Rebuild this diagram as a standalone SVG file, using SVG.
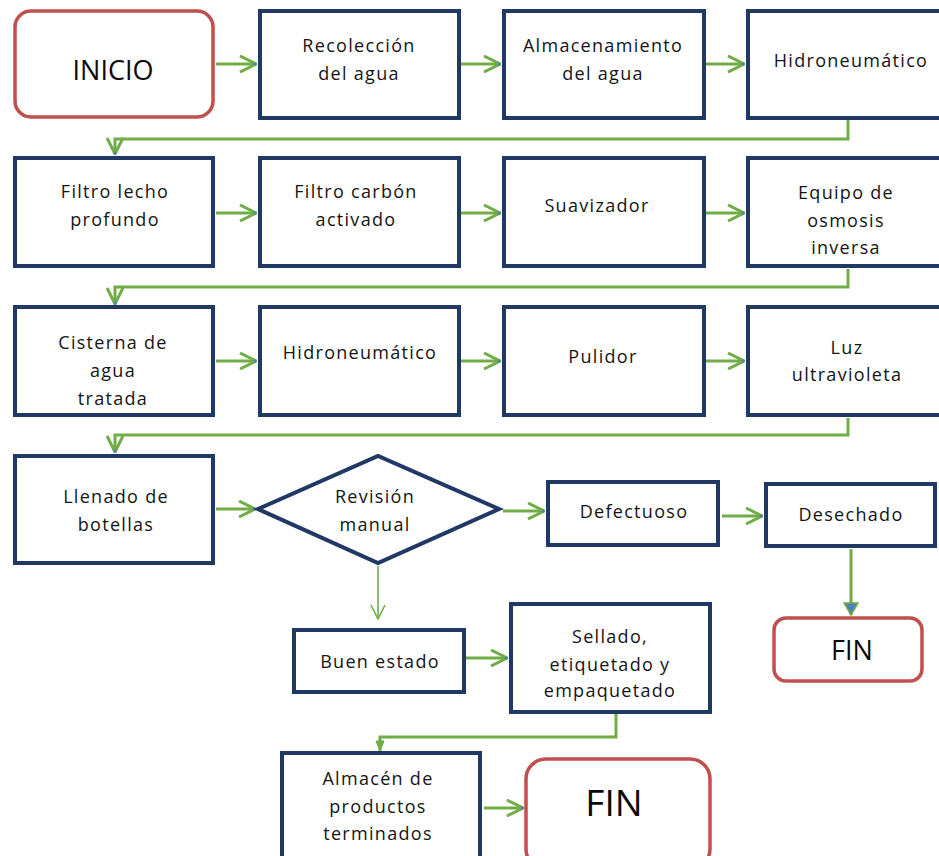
<svg xmlns="http://www.w3.org/2000/svg" width="939" height="856" viewBox="0 0 939 856">
  <style>
    .box { fill: #ffffff; stroke: #1F3864; stroke-width: 4; }
    .term { fill: #ffffff; stroke: #C0504D; stroke-width: 3.5; }
    .lbl { font-family: "Open Sans", "Liberation Sans", sans-serif; font-size: 18px; letter-spacing: 1.3px; fill: #141414; text-anchor: middle; }
    .big { font-family: "Open Sans", "Liberation Sans", sans-serif; fill: #0a0a0a; text-anchor: middle; }
    .flow { fill: none; stroke: #70AD47; stroke-width: 3; }
    .thin { fill: none; stroke: #70AD47; stroke-width: 1.6; }
  </style>
  <defs>
    <marker id="chev" viewBox="0 0 18 18" refX="17" refY="9" markerWidth="18" markerHeight="18" markerUnits="userSpaceOnUse" orient="auto">
      <path d="M1,1 L17,9 L1,17" fill="none" stroke="#70AD47" stroke-width="3"/>
      <circle cx="16" cy="9" r="1.5" fill="#4F81BD"/>
    </marker>
    <marker id="chevThin" viewBox="0 0 16 16" refX="15" refY="8" markerWidth="16" markerHeight="16" markerUnits="userSpaceOnUse" orient="auto">
      <path d="M1,1 L15,8 L1,15" fill="none" stroke="#70AD47" stroke-width="1.6"/>
    </marker>
    <marker id="tri" viewBox="0 0 14 16" refX="13" refY="8" markerWidth="14" markerHeight="16" markerUnits="userSpaceOnUse" orient="auto">
      <path d="M1,1 L13,8 L1,15 Z" fill="#4F81BD" stroke="#70AD47" stroke-width="1.5"/>
    </marker>
    <marker id="triSmall" viewBox="0 0 12 10" refX="11" refY="5" markerWidth="12" markerHeight="10" markerUnits="userSpaceOnUse" orient="auto">
      <path d="M1,1 L11,5 L1,9 Z" fill="#70AD47" stroke="#70AD47" stroke-width="1"/>
    </marker>
  </defs>

  <rect width="939" height="856" fill="#ffffff"/>

  <!-- connectors -->
  <g id="connectors">
    <line class="flow" x1="216" y1="64" x2="256" y2="64" marker-end="url(#chev)"/>
    <line class="flow" x1="461" y1="64" x2="500" y2="64" marker-end="url(#chev)"/>
    <line class="flow" x1="706" y1="64" x2="744" y2="64" marker-end="url(#chev)"/>
    <polyline class="flow" points="848,120 848,139 115,139 115,154" marker-end="url(#chev)"/>

    <line class="flow" x1="216" y1="213" x2="256" y2="213" marker-end="url(#chev)"/>
    <line class="flow" x1="461" y1="213" x2="500" y2="213" marker-end="url(#chev)"/>
    <line class="flow" x1="706" y1="213" x2="744" y2="213" marker-end="url(#chev)"/>
    <polyline class="flow" points="848,269 848,287 115,287 115,304" marker-end="url(#chev)"/>

    <line class="flow" x1="216" y1="361" x2="256" y2="361" marker-end="url(#chev)"/>
    <line class="flow" x1="461" y1="361" x2="500" y2="361" marker-end="url(#chev)"/>
    <line class="flow" x1="706" y1="361" x2="744" y2="361" marker-end="url(#chev)"/>
    <polyline class="flow" points="848,418 848,435 115,435 115,452" marker-end="url(#chev)"/>

    <line class="flow" x1="216" y1="509" x2="255" y2="509" marker-end="url(#chev)"/>
    <line class="flow" x1="503" y1="511" x2="544" y2="511" marker-end="url(#chev)"/>
    <line class="flow" x1="722" y1="516" x2="762" y2="516" marker-end="url(#chev)"/>
    <line class="flow" x1="851" y1="549" x2="851" y2="615" marker-end="url(#tri)"/>

    <line class="thin" x1="378" y1="566" x2="378" y2="619" marker-end="url(#chevThin)"/>
    <line class="flow" x1="466" y1="658" x2="507" y2="658" stroke-width="3.5" marker-end="url(#chev)"/>
    <polyline class="flow" points="616,714 616,737 380,737 380,751" marker-end="url(#triSmall)"/>
    <line class="flow" x1="484" y1="808" x2="523" y2="808" marker-end="url(#chev)"/>
  </g>

  <!-- row 1 -->
  <g id="inicio">
    <rect class="term" x="15" y="11" width="198" height="106" rx="16"/>
    <text class="big" x="113" y="80" font-size="27">INICIO</text>
  </g>
  <g id="recoleccion">
    <rect class="box" x="260" y="11" width="199" height="107"/>
    <text class="lbl" x="359" y="52">Recolección</text>
    <text class="lbl" x="359" y="80">del agua</text>
  </g>
  <g id="almacenamiento">
    <rect class="box" x="504" y="11" width="200" height="107"/>
    <text class="lbl" x="603" y="52">Almacenamiento</text>
    <text class="lbl" x="603" y="80">del agua</text>
  </g>
  <g id="hidroneumatico1">
    <rect class="box" x="748" y="11" width="200" height="107"/>
    <text class="lbl" x="851" y="67">Hidroneumático</text>
  </g>

  <!-- row 2 -->
  <g id="filtro-lecho">
    <rect class="box" x="15" y="158" width="198" height="108"/>
    <text class="lbl" x="115" y="198">Filtro lecho</text>
    <text class="lbl" x="115" y="226">profundo</text>
  </g>
  <g id="filtro-carbon">
    <rect class="box" x="260" y="158" width="199" height="108"/>
    <text class="lbl" x="356" y="198">Filtro carbón</text>
    <text class="lbl" x="356" y="226">activado</text>
  </g>
  <g id="suavizador">
    <rect class="box" x="504" y="158" width="200" height="108"/>
    <text class="lbl" x="597" y="212">Suavizador</text>
  </g>
  <g id="osmosis">
    <rect class="box" x="748" y="158" width="200" height="108"/>
    <text class="lbl" x="846" y="199">Equipo de</text>
    <text class="lbl" x="846" y="227">osmosis</text>
    <text class="lbl" x="846" y="254">inversa</text>
  </g>

  <!-- row 3 -->
  <g id="cisterna">
    <rect class="box" x="15" y="307" width="198" height="108"/>
    <text class="lbl" x="113" y="349">Cisterna de</text>
    <text class="lbl" x="113" y="377">agua</text>
    <text class="lbl" x="113" y="405">tratada</text>
  </g>
  <g id="hidroneumatico2">
    <rect class="box" x="260" y="307" width="199" height="108"/>
    <text class="lbl" x="360" y="359">Hidroneumático</text>
  </g>
  <g id="pulidor">
    <rect class="box" x="504" y="307" width="200" height="108"/>
    <text class="lbl" x="603" y="363">Pulidor</text>
  </g>
  <g id="luz-uv">
    <rect class="box" x="748" y="307" width="200" height="108"/>
    <text class="lbl" x="847" y="354">Luz</text>
    <text class="lbl" x="847" y="381">ultravioleta</text>
  </g>

  <!-- row 4 -->
  <g id="llenado">
    <rect class="box" x="15" y="456" width="198" height="107"/>
    <text class="lbl" x="116" y="503">Llenado de</text>
    <text class="lbl" x="116" y="531">botellas</text>
  </g>
  <g id="revision">
    <polygon class="box" points="258,509 378,456 499,509 378,563"/>
    <text class="lbl" x="375" y="503">Revisión</text>
    <text class="lbl" x="375" y="531">manual</text>
  </g>
  <g id="defectuoso">
    <rect class="box" x="548" y="482" width="170" height="63"/>
    <text class="lbl" x="634" y="518">Defectuoso</text>
  </g>
  <g id="desechado">
    <rect class="box" x="766" y="484" width="169" height="62"/>
    <text class="lbl" x="851" y="521">Desechado</text>
  </g>
  <g id="fin1">
    <rect class="term" x="774" y="618" width="148" height="63" rx="12"/>
    <text class="big" x="852" y="660" font-size="27">FIN</text>
  </g>

  <!-- lower branch -->
  <g id="buen-estado">
    <rect class="box" x="294" y="630" width="170" height="62"/>
    <text class="lbl" x="380" y="668">Buen estado</text>
  </g>
  <g id="sellado">
    <rect class="box" x="511" y="604" width="199" height="108"/>
    <text class="lbl" x="610" y="643">Sellado,</text>
    <text class="lbl" x="610" y="671">etiquetado y</text>
    <text class="lbl" x="610" y="697">empaquetado</text>
  </g>
  <g id="almacen">
    <rect class="box" x="282" y="753" width="198" height="110"/>
    <text class="lbl" x="378" y="785">Almacén de</text>
    <text class="lbl" x="378" y="813">productos</text>
    <text class="lbl" x="378" y="840">terminados</text>
  </g>
  <g id="fin2">
    <rect class="term" x="526" y="759" width="184" height="110" rx="20"/>
    <text class="big" x="614" y="816" font-size="37">FIN</text>
  </g>
</svg>
